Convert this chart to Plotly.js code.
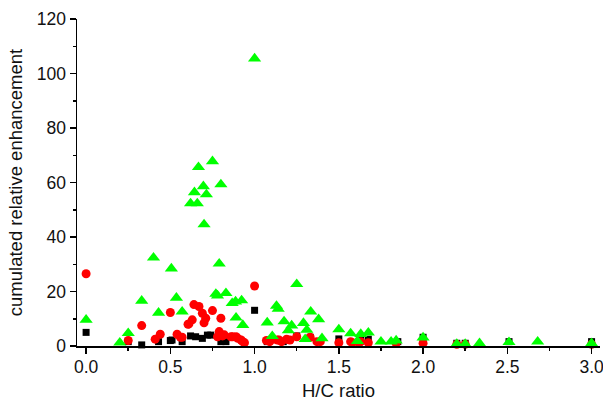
<!DOCTYPE html>
<html>
<head>
<meta charset="utf-8">
<script src="https://cdn.plot.ly/plotly-3.0.1.min.js"></script>
<style>html,body{margin:0;padding:0;background:#fff}#chart{width:603px;height:404px}</style>
</head>
<body>
<div id="chart"></div>
<script>
// Black squares
const blackX = [0.0, 0.25, 0.33, 0.43, 0.5, 0.51, 0.57, 0.62, 0.65, 0.69, 0.72, 0.74, 0.80, 0.83, 1.0, 1.075, 1.17, 1.25, 1.33, 1.50, 1.63, 1.675, 1.85, 2.0, 2.2, 2.25, 2.51, 3.0];
const blackY = [5.0, 1.6, 0.4, 1.6, 2.0, 2.2, 1.6, 3.7, 3.4, 2.8, 4.0, 4.0, 1.6, 1.6, 13.1, 1.6, 1.6, 3.7, 3.2, 2.6, 2.2, 2.5, 1.6, 3.2, 1.0, 1.0, 1.6, 1.6];

// Red circles
const redX = [0.0, 0.25, 0.33, 0.41, 0.44, 0.50, 0.54, 0.56, 0.57, 0.605, 0.61, 0.63, 0.64, 0.67, 0.69, 0.70, 0.71, 0.75, 0.78, 0.79, 0.80, 0.81, 0.82, 0.86, 0.87, 0.89, 0.90, 0.92, 0.93, 0.94, 1.0, 1.07, 1.09, 1.135, 1.145, 1.16, 1.19, 1.21, 1.25, 1.33, 1.37, 1.39, 1.50, 1.57, 1.58, 1.62, 1.63, 1.675, 1.84, 2.0, 2.2, 2.25, 3.0];
const redY = [26.5, 2.0, 7.5, 2.5, 4.3, 12.3, 4.3, 3.2, 3.2, 8.0, 8.1, 9.6, 15.2, 14.5, 12.0, 8.5, 10.2, 13.0, 3.4, 5.3, 10.2, 3.7, 4.1, 3.4, 3.4, 3.4, 2.8, 2.2, 1.6, 1.2, 22.0, 2.0, 1.6, 2.2, 2.2, 1.6, 2.5, 2.2, 3.4, 3.2, 1.6, 1.6, 1.2, 1.6, 1.2, 1.2, 1.6, 1.2, 1.0, 1.0, 0.6, 0.6, 0.6];

// Green triangles
const greenX = [0.0, 0.20, 0.25, 0.33, 0.40, 0.43, 0.506, 0.536, 0.57, 0.62, 0.643, 0.66, 0.667, 0.696, 0.70, 0.714, 0.75, 0.77, 0.78, 0.79, 0.80, 0.83, 0.867, 0.887, 0.89, 0.923, 0.93, 1.0, 1.075, 1.105, 1.13, 1.14, 1.175, 1.20, 1.22, 1.25, 1.29, 1.30, 1.31, 1.333, 1.38, 1.40, 1.50, 1.57, 1.61, 1.63, 1.675, 1.75, 1.81, 1.84, 2.0, 2.2, 2.25, 2.335, 2.51, 2.68, 3.0];
const greenY = [9.6, 1.2, 4.7, 16.6, 32.4, 12.2, 28.4, 17.7, 12.6, 52.3, 56.4, 52.3, 65.6, 58.6, 44.6, 55.6, 67.8, 19.1, 18.5, 30.2, 59.3, 19.4, 15.7, 16.3, 10.4, 16.7, 7.7, 105.5, 8.6, 3.6, 14.7, 13.6, 9.0, 5.7, 7.5, 22.7, 8.4, 2.5, 5.9, 12.6, 9.8, 2.8, 6.1, 4.6, 1.8, 4.4, 4.9, 1.6, 1.6, 2.0, 3.1, 0.7, 0.7, 1.0, 1.4, 1.6, 1.0];

const FONT = 'Liberation Sans, Arial, sans-serif';
const TXT = '#111111';

const traces = [
  {x: blackX, y: blackY, type: 'scatter', mode: 'markers', cliponaxis: false,
   marker: {symbol: 'square', size: 7, color: '#000000'}},
  {x: redX, y: redY, type: 'scatter', mode: 'markers', cliponaxis: false,
   marker: {symbol: 'circle', size: 9, color: '#ff0000'}},
  {x: greenX, y: greenY, type: 'scatter', mode: 'markers', cliponaxis: false,
   marker: {symbol: 'triangle-up', size: 11.5, color: '#00ff00'}}
];

const layout = {
  width: 603, height: 404,
  margin: {l: 77, r: 3, t: 19, b: 58},
  paper_bgcolor: '#ffffff', plot_bgcolor: '#ffffff',
  showlegend: false,
  font: {family: FONT, size: 17.5, color: TXT},
  xaxis: {
    range: [-0.054, 3.05],
    tickmode: 'array', tickvals: [0, 0.5, 1, 1.5, 2, 2.5, 3],
    ticktext: ['0.0', '0.5', '1.0', '1.5', '2.0', '2.5', '3.0'],
    ticks: 'outside', ticklen: 6, tickwidth: 1.5, tickcolor: '#000',
    ticklabeloverflow: 'allow', ticklabelstandoff: -2,
    minor: {tickvals: [0.25, 0.75, 1.25, 1.75, 2.25, 2.75], ticks: 'outside', ticklen: 3, tickwidth: 1.5, tickcolor: '#000'},
    showline: true, linecolor: '#000', linewidth: 1.5,
    showgrid: false, zeroline: false,
    tickfont: {family: FONT, size: 17.5, color: TXT},
    title: {text: 'H/C ratio', font: {family: FONT, size: 18.5, color: TXT}, standoff: 8}
  },
  yaxis: {
    range: [0, 120],
    tickmode: 'array', tickvals: [0, 20, 40, 60, 80, 100, 120],
    ticks: 'outside', ticklen: 6, tickwidth: 1.5, tickcolor: '#000',
    ticklabeloverflow: 'allow',
    minor: {tickvals: [10, 30, 50, 70, 90, 110], ticks: 'outside', ticklen: 3, tickwidth: 1.5, tickcolor: '#000'},
    showline: true, linecolor: '#000', linewidth: 1.5,
    showgrid: false, zeroline: false,
    tickfont: {family: FONT, size: 17.5, color: TXT},
    title: {text: 'cumulated relative enhancement', font: {family: FONT, size: 18.5, color: TXT}, standoff: 9}
  }
};

Plotly.newPlot('chart', traces, layout, {displayModeBar: false, staticPlot: true});
</script>
</body>
</html>
